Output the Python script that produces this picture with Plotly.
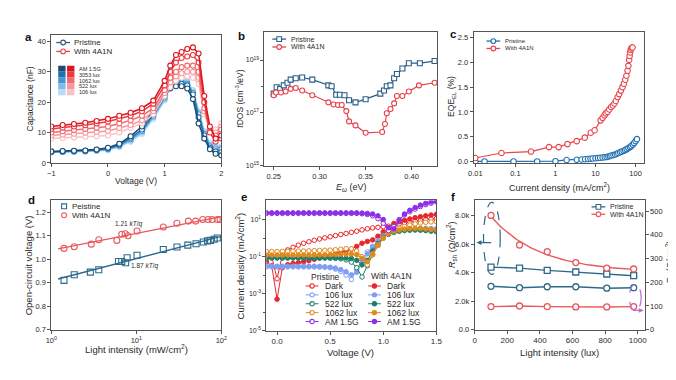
import numpy as np
import plotly.graph_objects as go

W, H = 676, 380
FONT = "Liberation Sans, Arial, sans-serif"
TXT = "#2a2a2a"
AX = "#555555"

def fx(x):
    return x / W

def fy(y):
    return 1 - y / H

# ---------------- panel a : capacitance ----------------
a_V = [-1, -0.8, -0.6, -0.4, -0.2, 0, 0.2, 0.4, 0.6, 0.8, 1.0, 1.1, 1.2, 1.3, 1.4, 1.5, 1.6, 1.7, 1.8, 1.9, 2.0]
a_levels = ["AM 1.5G", "3053 lux", "1062 lux", "522 lux", "106 lux"]
a_4a1n = {
    "AM 1.5G": [12.0, 12.5, 12.8, 13.2, 13.8, 14.5, 15.5, 16.5, 18.0, 20.5, 27.0, 32.0, 35.5, 36.5, 37.5, 38.0, 36.0, 22.0, 12.0, 8.0, 9.0],
    "3053 lux": [11.2, 11.6, 12.0, 12.4, 13.0, 13.6, 14.5, 15.5, 17.0, 19.5, 25.5, 30.0, 33.0, 34.5, 35.0, 35.5, 33.0, 20.0, 10.0, 7.0, 8.0],
    "1062 lux": [10.0, 10.4, 10.8, 11.2, 11.6, 12.0, 13.0, 14.0, 15.5, 18.0, 24.0, 28.0, 30.0, 31.5, 32.0, 32.0, 30.0, 18.0, 11.0, 9.0, 11.0],
    "522 lux": [9.0, 9.3, 9.6, 9.9, 10.2, 10.5, 11.5, 12.5, 14.0, 17.0, 23.0, 26.5, 28.5, 29.5, 30.0, 30.0, 28.0, 17.0, 11.0, 10.0, 12.0],
    "106 lux": [8.0, 8.2, 8.4, 8.6, 8.8, 9.0, 10.0, 11.5, 13.0, 16.0, 22.0, 25.0, 27.0, 28.0, 28.5, 28.0, 26.0, 16.0, 11.0, 11.0, 13.0],
}
a_pristine = {
    "AM 1.5G": [3.8, 3.9, 4.0, 4.1, 4.4, 5.0, 6.3, 8.8, 12.0, 17.0, 22.5, 24.5, 25.2, 25.2, 24.5, 21.0, 13.0, 8.0, 4.5, 3.0, 2.5],
    "3053 lux": [3.7, 3.8, 3.9, 4.0, 4.3, 4.8, 6.0, 8.3, 11.0, 16.0, 22.0, 25.0, 26.0, 26.0, 25.5, 22.5, 15.0, 9.0, 5.0, 3.8, 3.5],
    "1062 lux": [3.6, 3.7, 3.8, 3.9, 4.2, 4.6, 5.8, 7.8, 10.5, 15.5, 21.5, 25.0, 26.5, 26.5, 26.0, 23.0, 16.0, 9.5, 5.5, 4.5, 4.5],
    "522 lux": [3.5, 3.6, 3.7, 3.8, 4.0, 4.4, 5.5, 7.4, 10.0, 15.0, 21.0, 25.0, 26.8, 27.0, 26.5, 23.5, 16.5, 10.0, 6.0, 5.0, 5.0],
    "106 lux": [3.4, 3.5, 3.6, 3.7, 3.9, 4.2, 5.2, 7.0, 9.5, 14.5, 20.5, 25.0, 27.0, 27.5, 27.0, 24.0, 17.0, 10.5, 6.5, 5.5, 5.5],
}
a_blues = ["#1d4a70", "#2170ad", "#4496d6", "#82bbe8", "#bcdaf2"]
a_reds = ["#e0141f", "#ec3a43", "#f26a70", "#f5999d", "#f8c3c5"]

# ---------------- panel b : tDOS ----------------
b_E_pristine = [0.25, 0.2532, 0.257, 0.261, 0.265, 0.2685, 0.274, 0.281, 0.292, 0.3095, 0.313, 0.318, 0.322, 0.327, 0.332, 0.339, 0.35, 0.366, 0.37, 0.373, 0.377, 0.381, 0.384, 0.390, 0.397, 0.409, 0.425]
b_logDOS_pristine = [17.73, 17.97, 17.91, 18.04, 18.14, 18.26, 18.31, 18.34, 18.26, 18.04, 18.01, 17.69, 17.69, 17.67, 17.48, 17.40, 17.52, 17.73, 17.85, 18.01, 18.04, 18.31, 18.47, 18.68, 18.88, 18.88, 18.96]
b_E_4a1n = [0.25, 0.2525, 0.258, 0.263, 0.2685, 0.274, 0.281, 0.292, 0.3095, 0.315, 0.32, 0.324, 0.329, 0.332, 0.339, 0.35, 0.368, 0.371, 0.373, 0.377, 0.381, 0.384, 0.390, 0.397, 0.408, 0.425]
b_logDOS_4a1n = [17.67, 17.77, 17.77, 17.81, 17.91, 17.94, 17.85, 17.67, 17.40, 17.32, 17.30, 17.30, 17.07, 16.68, 16.53, 16.25, 16.28, 16.58, 16.99, 17.15, 17.36, 17.64, 17.64, 17.81, 18.04, 18.14]

# ---------------- panel c : EQE_EL ----------------
c_J_pristine = [0.01, 0.017, 0.09, 0.35, 1.0, 1.9, 3.4, 4.5, 5.5, 6.5, 7.5, 8.5, 10, 11.5, 13, 15, 17, 19, 21, 23, 25, 28, 31, 34, 37, 41, 45, 50, 55, 60, 66, 72, 78, 85, 92, 100, 108]
c_EQE_pristine = [0.0, 0.0, 0.0, 0.0, 0.005, 0.03, 0.035, 0.04, 0.045, 0.05, 0.055, 0.06, 0.065, 0.07, 0.075, 0.08, 0.085, 0.09, 0.1, 0.11, 0.12, 0.13, 0.14, 0.155, 0.17, 0.185, 0.2, 0.215, 0.23, 0.25, 0.27, 0.29, 0.31, 0.34, 0.37, 0.41, 0.45]
c_J_4a1n = [0.01, 0.045, 0.245, 0.69, 1.2, 2.0, 3.4, 5.4, 7.6, 9.5, 13.4, 15, 16.7, 18, 20, 22, 24.5, 27, 29.6, 32, 35.6, 39, 43, 47, 51, 55, 59, 63, 66, 69, 71, 73, 75, 78, 81, 84]
c_EQE_4a1n = [0.07, 0.17, 0.2, 0.29, 0.29, 0.35, 0.41, 0.48, 0.58, 0.63, 0.83, 0.88, 0.93, 0.97, 1.0, 1.05, 1.1, 1.13, 1.17, 1.22, 1.3, 1.36, 1.43, 1.5, 1.57, 1.65, 1.73, 1.83, 1.93, 2.05, 2.13, 2.2, 2.25, 2.28, 2.3, 2.3]

# ---------------- panel d : Voc vs light ----------------
d_I_pristine = [1.41, 1.86, 2.88, 3.62, 6.17, 6.74, 7.5, 7.8, 10.2, 20.8, 30.1, 40.4, 50.5, 61.5, 69, 75, 82.5, 89.9]
d_Voc_pristine = [0.91, 0.934, 0.945, 0.955, 0.99, 0.99, 0.985, 1.006, 1.017, 1.041, 1.052, 1.06, 1.066, 1.073, 1.078, 1.08, 1.085, 1.09]
d_I_4a1n = [1.41, 1.86, 2.95, 3.62, 5.9, 6.74, 7.4, 8.0, 10.2, 20.8, 30.1, 41, 50, 60.6, 70, 78, 89.9, 97]
d_Voc_4a1n = [1.046, 1.053, 1.064, 1.083, 1.08, 1.106, 1.108, 1.1, 1.12, 1.137, 1.153, 1.162, 1.162, 1.169, 1.169, 1.169, 1.169, 1.169]
d_fit_span = [1.2, 100]

# ---------------- panel e : J-V (log10 |J|) ----------------
e_V = [-0.10, -0.05, 0.00, 0.05, 0.10, 0.15, 0.20, 0.25, 0.30, 0.35, 0.40, 0.45, 0.50, 0.55, 0.60, 0.65, 0.70,
       0.75, 0.80, 0.85, 0.90, 0.95, 1.00, 1.05, 1.10, 1.15, 1.20, 1.25, 1.30, 1.35, 1.40, 1.45, 1.50]
e_labels = ["Dark", "106 lux", "522 lux", "1062 lux", "AM 1.5G"]
e_colors = ["#e8262c", "#7f9ef0", "#1d7f6c", "#e08a1c", "#8c2fe6"]
e_logJ_pristine = {
    "Dark": [-0.75, -1.0, -2.2, -0.9, -0.64, -0.5, -0.38, -0.28, -0.2, -0.12, -0.05, 0.01, 0.07, 0.13, 0.19, 0.25, 0.31,
             0.37, 0.44, 0.5, 0.55, 0.58, 0.61, 0.64, 0.70, 0.76, 0.82, 0.87, 0.92, 0.96, 1.0, 1.03, 1.05],
    "106 lux": [-1.56, -1.56, -1.56, -1.56, -1.56, -1.56, -1.56, -1.56, -1.56, -1.56, -1.57, -1.58, -1.6, -1.68, -1.8, -2.0, -2.24,
                -1.7, -1.15, -0.75, -0.45, -0.15, 0.12, 0.28, 0.36, 0.42, 0.46, 0.49, 0.51, 0.52, 0.52, 0.51, 0.5],
    "522 lux": [-1.08, -1.08, -1.08, -1.08, -1.08, -1.08, -1.08, -1.08, -1.08, -1.08, -1.08, -1.08, -1.09, -1.1, -1.12, -1.18, -1.3,
                -1.6, -2.1, -1.5, -0.9, -0.4, 0.0, 0.2, 0.3, 0.36, 0.4, 0.42, 0.43, 0.42, 0.4, 0.37, 0.34],
    "1062 lux": [-0.73, -0.73, -0.73, -0.72, -0.72, -0.71, -0.7, -0.7, -0.69, -0.68, -0.67, -0.66, -0.65, -0.63, -0.6, -0.57, -0.58,
                 -0.7, -1.0, -1.44, -0.9, -0.4, 0.0, 0.28, 0.43, 0.53, 0.62, 0.7, 0.76, 0.81, 0.85, 0.87, 0.88],
    "AM 1.5G": [1.33, 1.33, 1.33, 1.33, 1.33, 1.33, 1.33, 1.33, 1.33, 1.33, 1.33, 1.33, 1.33, 1.33, 1.33, 1.33, 1.33,
                1.33, 1.31, 1.27, 1.2, 1.05, 0.8, 0.4, 0.62, 1.0, 1.25, 1.42, 1.56, 1.7, 1.8, 1.88, 1.95],
}
e_logJ_4a1n = {
    "Dark": [-1.26, -1.5, -3.3, -1.6, -1.44, -1.38, -1.33, -1.28, -1.22, -1.15, -1.08, -1.0, -0.92, -0.85, -0.78, -0.7, -0.6,
             -0.45, -0.28, -0.18, -0.1, 0.1, 0.34, 0.55, 0.79, 0.88, 0.96, 1.03, 1.1, 1.15, 1.2, 1.24, 1.28],
    "106 lux": [-1.52, -1.52, -1.52, -1.52, -1.52, -1.52, -1.52, -1.52, -1.52, -1.52, -1.53, -1.55, -1.57, -1.62, -1.7, -1.82, -1.98,
                -1.85, -1.3, -0.85, -0.5, -0.18, 0.08, 0.25, 0.35, 0.41, 0.45, 0.48, 0.5, 0.51, 0.51, 0.5, 0.49],
    "522 lux": [-1.06, -1.06, -1.06, -1.06, -1.06, -1.06, -1.06, -1.06, -1.06, -1.06, -1.06, -1.06, -1.06, -1.06, -1.07, -1.08, -1.1,
                -1.2, -1.45, -1.2, -0.7, -0.3, 0.05, 0.25, 0.35, 0.4, 0.43, 0.45, 0.46, 0.45, 0.43, 0.4, 0.36],
    "1062 lux": [-0.92, -0.92, -0.92, -0.92, -0.92, -0.92, -0.92, -0.92, -0.92, -0.92, -0.91, -0.91, -0.9, -0.89, -0.88, -0.87, -0.86,
                 -0.9, -1.1, -1.28, -0.85, -0.35, 0.0, 0.24, 0.36, 0.43, 0.48, 0.51, 0.52, 0.51, 0.49, 0.46, 0.43],
    "AM 1.5G": [1.36, 1.36, 1.36, 1.36, 1.36, 1.36, 1.36, 1.36, 1.36, 1.36, 1.36, 1.36, 1.36, 1.36, 1.36, 1.36, 1.36,
                1.36, 1.35, 1.33, 1.3, 1.2, 1.0, 0.55, 0.5, 0.95, 1.3, 1.5, 1.65, 1.78, 1.88, 1.95, 2.0],
}

# ---------------- panel f : resistances ----------------
f_lux = [100, 275, 445, 620, 810, 975]
f_Rsh_pristine = [4380, 4310, 4150, 4040, 3900, 3780]
f_Rsh_4a1n = [8000, 5930, 5460, 4700, 4310, 4250]
f_Rs_pristine = [183, 177, 181, 181, 175, 177]
f_Rs_4a1n = [97.5, 100, 97.5, 96, 96, 97.5]
f_decay_lux = 300

# ---------------- figure ----------------
fig = go.Figure()

def open_marker(color, symbol="circle", size=5, width=1.1):
    return dict(symbol=symbol, size=size, color="white", line=dict(color=color, width=width))

def filled_marker(color, symbol="circle", size=5):
    return dict(symbol=symbol, size=size, color=color, line=dict(color=color, width=1))

# panel a traces: light curves first
for i in reversed(range(5)):
    lvl = a_levels[i]
    fig.add_trace(go.Scatter(x=a_V, y=a_pristine[lvl], mode="lines+markers", xaxis="x", yaxis="y",
                             line=dict(color=a_blues[i], width=1.5), marker=open_marker(a_blues[i], size=5),
                             showlegend=False))
for i in reversed(range(5)):
    lvl = a_levels[i]
    fig.add_trace(go.Scatter(x=a_V, y=a_4a1n[lvl], mode="lines+markers", xaxis="x", yaxis="y",
                             line=dict(color=a_reds[i], width=1.5), marker=open_marker(a_reds[i], size=5),
                             showlegend=False))

# panel b
B_BLUE, B_RED = "#2a5d86", "#e8434c"
fig.add_trace(go.Scatter(x=b_E_pristine, y=np.power(10.0, b_logDOS_pristine), mode="lines+markers", xaxis="x2", yaxis="y2",
                         line=dict(color=B_BLUE, width=1.2), marker=open_marker(B_BLUE, "square", 5), showlegend=False))
fig.add_trace(go.Scatter(x=b_E_4a1n, y=np.power(10.0, b_logDOS_4a1n), mode="lines+markers", xaxis="x2", yaxis="y2",
                         line=dict(color=B_RED, width=1.2), marker=open_marker(B_RED, "circle", 5), showlegend=False))

# panel c
C_BLUE, C_RED = "#1f6fae", "#e8434c"
fig.add_trace(go.Scatter(x=c_J_pristine, y=c_EQE_pristine, mode="lines+markers", xaxis="x3", yaxis="y3",
                         line=dict(color=C_BLUE, width=1.2), marker=open_marker(C_BLUE, "circle", 5.5), showlegend=False))
fig.add_trace(go.Scatter(x=c_J_4a1n, y=c_EQE_4a1n, mode="lines+markers", xaxis="x3", yaxis="y3",
                         line=dict(color=C_RED, width=1.2), marker=open_marker(C_RED, "circle", 5.5), showlegend=False))

# panel d
D_BLUE, D_RED = "#2a6a8c", "#e85a5e"
for xs, ys, col, sym in [(d_I_pristine, d_Voc_pristine, D_BLUE, "square"), (d_I_4a1n, d_Voc_4a1n, D_RED, "circle")]:
    k, b0 = np.polyfit(np.log10(xs), ys, 1)
    fx_line = np.array(d_fit_span)
    fig.add_trace(go.Scatter(x=fx_line, y=k * np.log10(fx_line) + b0, mode="lines", xaxis="x4", yaxis="y4",
                             line=dict(color=col, width=1.4), showlegend=False))
    fig.add_trace(go.Scatter(x=xs, y=ys, mode="markers", xaxis="x4", yaxis="y4",
                             marker=dict(symbol=sym + "-open", size=6, color=col, line=dict(width=1.1)), showlegend=False))

# panel e
for i, lab in enumerate(e_labels):
    col = e_colors[i]
    fig.add_trace(go.Scatter(x=e_V, y=np.power(10.0, e_logJ_pristine[lab]), mode="lines+markers", xaxis="x5", yaxis="y5",
                             line=dict(color=col, width=1), marker=open_marker(col, "circle", 4.5, 1), showlegend=False))
    fig.add_trace(go.Scatter(x=e_V, y=np.power(10.0, e_logJ_4a1n[lab]), mode="lines+markers", xaxis="x5", yaxis="y5",
                             line=dict(color=col, width=1), marker=filled_marker(col, "circle", 4.5), showlegend=False))

# panel f
F_BLUE, F_RED = "#2e6a88", "#e8585e"
fig.add_trace(go.Scatter(x=f_lux, y=f_Rsh_pristine, mode="lines+markers", xaxis="x6", yaxis="y6",
                         line=dict(color=F_BLUE, width=1.4), marker=open_marker(F_BLUE, "square", 6, 1.3), showlegend=False))
ex = np.exp(-np.array(f_lux) / f_decay_lux)
kk, bb = np.polyfit(ex, f_Rsh_4a1n, 1)
lux_dense = np.linspace(f_lux[0], f_lux[-1], 60)
fig.add_trace(go.Scatter(x=lux_dense, y=kk * np.exp(-lux_dense / f_decay_lux) + bb, mode="lines", xaxis="x6", yaxis="y6",
                         line=dict(color=F_RED, width=1.4), showlegend=False))
fig.add_trace(go.Scatter(x=f_lux, y=f_Rsh_4a1n, mode="markers", xaxis="x6", yaxis="y6",
                         marker=open_marker(F_RED, "circle", 6, 1.3), showlegend=False))
fig.add_trace(go.Scatter(x=f_lux, y=f_Rs_pristine, mode="lines+markers", xaxis="x6", yaxis="y7",
                         line=dict(color=F_BLUE, width=1.4), marker=open_marker(F_BLUE, "circle", 6, 1.3), showlegend=False))
fig.add_trace(go.Scatter(x=f_lux, y=f_Rs_4a1n, mode="lines+markers", xaxis="x6", yaxis="y7",
                         line=dict(color=F_RED, width=1.4), marker=open_marker(F_RED, "circle", 6, 1.3), showlegend=False))

# ---------------- axes ----------------
def dom_x(x0, x1):
    return [x0 / W, x1 / W]

def dom_y(y0, y1):
    return [1 - y1 / H, 1 - y0 / H]

def base_axis(tsize=7.5, **kw):
    d = dict(showline=True, linecolor=AX, linewidth=1, mirror=True, ticks="outside", ticklen=3, tickwidth=1,
             tickcolor=AX, showgrid=False, zeroline=False, tickfont=dict(size=tsize, color=TXT, family=FONT))
    d.update(kw)
    return d

panels = {
    "a": (38, 211, 27, 157),
    "b": (255, 431, 24, 160),
    "c": (468, 641, 24, 157),
    "d": (38, 211, 195, 326),
    "e": (257, 430, 195, 327),
    "f": (469, 642, 195, 326),
}

layout = dict(width=W, height=H, margin=dict(l=0, r=0, t=0, b=0), paper_bgcolor="white", plot_bgcolor="white",
              font=dict(family=FONT, color=TXT), showlegend=False)

pa = panels["a"]
layout["xaxis"] = base_axis(domain=dom_x(pa[0], pa[1]), anchor="y", range=[-1, 2], tickvals=[-1, 0, 1, 2])
layout["yaxis"] = base_axis(domain=dom_y(pa[2], pa[3]), anchor="x", range=[0, 42.2], tickvals=[0, 10, 20, 30, 40])

pb = panels["b"]
layout["xaxis2"] = base_axis(domain=dom_x(pb[0], pb[1]), anchor="y2", range=[0.24, 0.428],
                             tickvals=[0.25, 0.30, 0.35, 0.40], ticktext=["0.25", "0.30", "0.35", "0.40"])
layout["yaxis2"] = base_axis(7, domain=dom_y(pb[2], pb[3]), anchor="x2", type="log", range=[15, 20.07],
                             tickvals=[1e15, 1e17, 1e19],
                             ticktext=["10<sup>15</sup>", "10<sup>17</sup>", "10<sup>19</sup>"],
                             minor=dict(tickvals=[1e16, 1e18], ticks="outside", ticklen=2, tickcolor=AX))

pc = panels["c"]
layout["xaxis3"] = base_axis(domain=dom_x(pc[0], pc[1]), anchor="y3", type="log", range=[-2.04, 2.2],
                             tickvals=[0.01, 0.1, 1, 10, 100], ticktext=["0.01", "0.1", "1", "10", "100"])
layout["yaxis3"] = base_axis(domain=dom_y(pc[2], pc[3]), anchor="x3", range=[-0.03, 2.62],
                             tickvals=[0, 0.5, 1.0, 1.5, 2.0, 2.5], ticktext=["0.0", "0.5", "1.0", "1.5", "2.0", "2.5"])

pd_ = panels["d"]
layout["xaxis4"] = base_axis(7.5, domain=dom_x(pd_[0], pd_[1]), anchor="y4", type="log", range=[0, 2],
                             tickvals=[1, 10, 100], ticktext=["10<sup>0</sup>", "10<sup>1</sup>", "10<sup>2</sup>"])
layout["yaxis4"] = base_axis(7.5, domain=dom_y(pd_[2], pd_[3]), anchor="x4", range=[0.7, 1.25],
                             tickvals=[0.7, 0.8, 0.9, 1.0, 1.1, 1.2], ticktext=["0.7", "0.8", "0.9", "1.0", "1.1", "1.2"])

pe = panels["e"]
layout["xaxis5"] = base_axis(8, domain=dom_x(pe[0], pe[1]), anchor="y5", range=[-0.1, 1.5],
                             tickvals=[0, 0.5, 1.0, 1.5], ticktext=["0.0", "0.5", "1.0", "1.5"])
layout["yaxis5"] = base_axis(7, domain=dom_y(pe[2], pe[3]), anchor="x5", type="log", range=[-5, 2.03],
                             tickvals=[1e-5, 1e-3, 1e-1, 1e1],
                             ticktext=["10<sup>-5</sup>", "10<sup>-3</sup>", "10<sup>-1</sup>", "10<sup>1</sup>"],
                             minor=dict(tickvals=[1e-4, 1e-2, 1], ticks="outside", ticklen=2, tickcolor=AX))

pf = panels["f"]
layout["xaxis6"] = base_axis(8, domain=dom_x(pf[0], pf[1]), anchor="y6", range=[0, 1042],
                             tickvals=[0, 200, 400, 600, 800, 1000])
layout["yaxis6"] = base_axis(7.5, domain=dom_y(pf[2], pf[3]), anchor="x6", range=[0, 9050],
                             tickvals=[0, 2000, 4000, 6000, 8000], ticktext=["0.0", "2.0k", "4.0k", "6.0k", "8.0k"])
layout["yaxis7"] = base_axis(7.5, overlaying="y6", side="right", anchor="x6", range=[0, 545],
                             tickvals=[0, 100, 200, 300, 400, 500], mirror=False)

# ---------------- text / legends / decorations (paper coords) ----------------
shapes = []
annots = []

def text_px(x, y, text, size, anchor="left", color=TXT, bold=False, angle=0):
    annots.append(dict(x=fx(x), y=fy(y), xref="paper", yref="paper", text=("<b>%s</b>" % text) if bold else text,
                       showarrow=False, xanchor=anchor, yanchor="middle", textangle=angle,
                       font=dict(size=size, color=color, family=FONT)))

def leg_item(xc, y, color, text, size, symbol="circle", filled=False, half=7, r=2.4, line=True, gap=2.5, lw=1.3):
    if line:
        shapes.append(dict(type="line", xref="paper", yref="paper", x0=fx(xc - half), x1=fx(xc + half),
                           y0=fy(y), y1=fy(y), line=dict(color=color, width=lw), layer="above"))
    shapes.append(dict(type="circle" if symbol == "circle" else "rect", xref="paper", yref="paper",
                       x0=fx(xc - r), x1=fx(xc + r), y0=fy(y + r), y1=fy(y - r),
                       line=dict(color=color, width=1.1), fillcolor=color if filled else "white", layer="above"))
    text_px(xc + half + gap, y, text, size)

# axis titles
text_px(124.5, 175, "Voltage (V)", 8.5, anchor="center")
text_px(16, 92, "Capacitance (nF)", 8.5, anchor="center", angle=-90)
text_px(343, 182, "<i>E<sub>ω</sub></i> (eV)", 9, anchor="center")
text_px(230, 92, "<i>t</i>DOS (cm<sup>-3</sup>/eV)", 8.5, anchor="center", angle=-90)
text_px(555, 181, "Current density (mA/cm<sup>2</sup>)", 9, anchor="center")
text_px(446, 90, "EQE<sub>EL</sub> (%)", 8.5, anchor="center", angle=-90)
text_px(124.5, 346, "Light intensity (mW/cm<sup>2</sup>)", 9.5, anchor="center")
text_px(15, 261, "Open-circuit voltage (V)", 9.5, anchor="center", angle=-90)
text_px(343, 349, "Voltage (V)", 9.5, anchor="center")
text_px(230, 261, "Current density (mA/cm<sup>2</sup>)", 9.5, anchor="center", angle=-90)
text_px(555, 349, "Light intensity (lux)", 9.5, anchor="center")
text_px(446, 240, "<i>R</i><sub>sh</sub> (Ω/cm<sup>2</sup>)", 9, anchor="center", angle=-90)
text_px(668, 258, "<i>R</i><sub>s</sub> (Ω/cm<sup>2</sup>)", 9, anchor="center", angle=-90)

# panel labels
for lab, (x, y) in {"a": (15, 29), "b": (232, 28), "c": (447, 26), "d": (18, 195), "e": (234, 192), "f": (447, 192)}.items():
    text_px(x, y, lab, 11.5, anchor="center", color="#111", bold=True)

# panel a legend
leg_item(50, 35, "#2b5c84", "Pristine", 8)
leg_item(50, 44, "#e8424c", "With 4A1N", 8)
for i, lvl in enumerate(a_levels):
    y0 = 58.5 + i * 6
    shapes.append(dict(type="rect", xref="paper", yref="paper", x0=fx(45), x1=fx(52.5), y0=fy(y0 + 6), y1=fy(y0),
                       line=dict(width=0), fillcolor=a_blues[i], layer="above"))
    shapes.append(dict(type="rect", xref="paper", yref="paper", x0=fx(54), x1=fx(61.5), y0=fy(y0 + 6), y1=fy(y0),
                       line=dict(width=0), fillcolor=a_reds[i], layer="above"))
    text_px(64, y0 + 3, lvl, 5.5)

# panel b legend
leg_item(270, 31.5, B_BLUE, "Pristine", 7, symbol="square")
leg_item(270, 39.5, B_RED, "With 4A1N", 7)

# panel c legend
leg_item(488, 33.5, C_BLUE, "Pristine", 6)
leg_item(488, 41, C_RED, "With 4A1N", 6)

# panel d legend + annotations
leg_item(51, 201, D_BLUE, "Peistine", 8, symbol="square", line=False, half=0, r=2.5, gap=6)
leg_item(51, 210, D_RED, "With 4A1N", 8, line=False, half=0, r=2.5, gap=6)
text_px(117, 218.5, "1.21 <i>kT</i>/<i>q</i>", 6.5, anchor="center")
text_px(133, 261, "1.87 <i>kT</i>/<i>q</i>", 6.5, anchor="center")

# panel e legend (two columns)
text_px(300, 272.5, "Pristine", 8.5)
text_px(361, 271.5, "With 4A1N", 8.5)
rows = [281.7, 290.7, 299.7, 308.7, 317.7]
for i, lab in enumerate(e_labels):
    leg_item(303.5, rows[i], e_colors[i], lab, 8.5, half=6.5, r=2.2, gap=4.5, lw=1)
    leg_item(367, rows[i], e_colors[i], lab, 8.5, filled=True, half=6.5, r=2.2, gap=4.5, lw=1)

# panel f legend
leg_item(595, 201.5, F_BLUE, "Pristine", 7, symbol="square")
leg_item(595, 209, F_RED, "With 4A1N", 7)

# panel f dashed ellipses and arrows
shapes.append(dict(type="circle", xref="paper", yref="paper", x0=fx(478), x1=fx(495), y0=fy(270), y1=fy(197),
                   line=dict(color=F_BLUE, width=1.2, dash="dash"), layer="above"))
shapes.append(dict(type="circle", xref="paper", yref="paper", x0=fx(626.5), x1=fx(638.5), y0=fy(307), y1=fy(280),
                   line=dict(color="#c46ad8", width=1.2, dash="dash"), layer="above"))
annots.append(dict(x=fx(471), y=fy(237.7), xref="paper", yref="paper", ax=16, ay=0, axref="pixel",
                   ayref="pixel", text="", showarrow=True, arrowhead=2, arrowsize=0.8, arrowwidth=1.2,
                   arrowcolor=F_BLUE))
annots.append(dict(x=fx(641), y=fy(306.5), xref="paper", yref="paper", ax=-12, ay=0, axref="pixel",
                   ayref="pixel", text="", showarrow=True, arrowhead=2, arrowsize=0.8, arrowwidth=1.2,
                   arrowcolor="#c46ad8"))

layout["shapes"] = shapes
layout["annotations"] = annots
fig.update_layout(**layout)
fig.write_html("out.html")
